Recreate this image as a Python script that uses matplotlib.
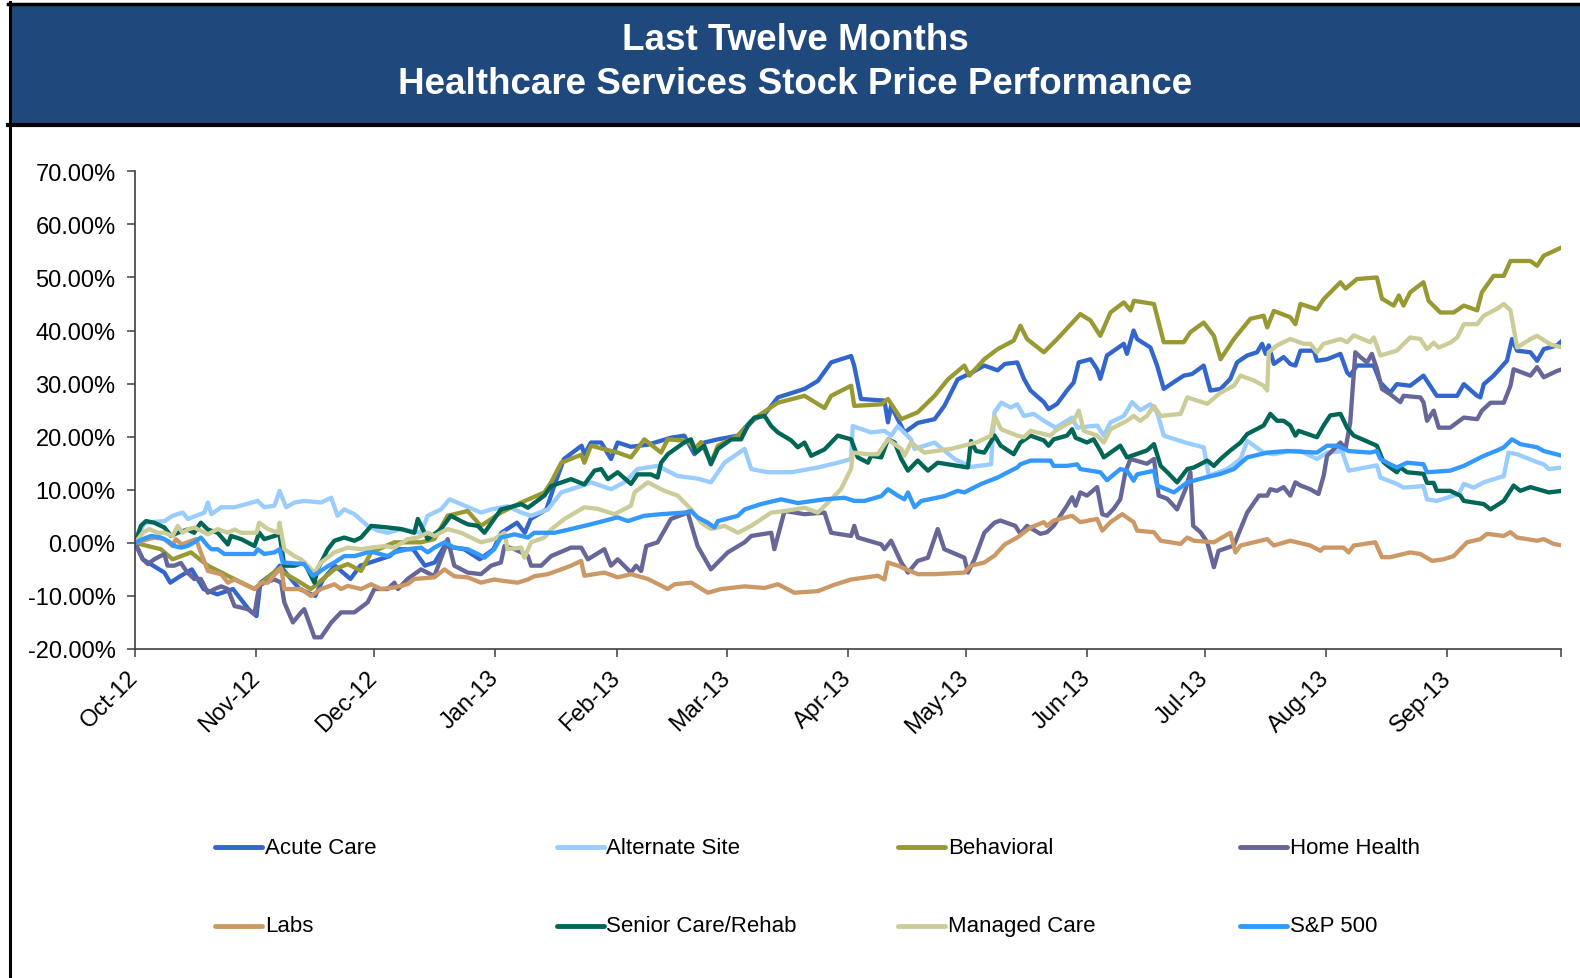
import numpy as np
import matplotlib
matplotlib.use('Agg')
import matplotlib.pyplot as plt
import matplotlib.dates as mdates
from matplotlib.lines import Line2D
from matplotlib.patches import Rectangle
from matplotlib.ticker import FuncFormatter
from datetime import datetime

plt.rcParams['font.family'] = ['Liberation Sans', 'DejaVu Sans']

start = datetime(2012, 10, 1)
end = datetime(2013, 9, 30)

names = ['Acute Care', 'Alternate Site', 'Behavioral', 'Home Health',
         'Labs', 'Senior Care/Rehab', 'Managed Care', 'S&P 500']
colors = ['#3366CC', '#99CCFF', '#999933', '#666699',
          '#CC9966', '#006655', '#CCCC99', '#3399FF']

# (days since 1-Oct-12, % price change)
acute_care = [
    (0, 0.0), (2, -3.1), (7.5, -5.6), (9, -7.5), (11.5, -6.3), (14.5, -5.0), (17.5, -8.7),
    (21, -9.7), (25, -8.7), (29, -12.5), (31, -13.8), (32, -7.5), (35.5, -5.6), (37, -4.3),
    (42, -8.7), (46, -10.0), (48, -6.9), (51, -4.3), (55, -6.8), (57.5, -4.3), (65, -2.5),
    (67, -1.2), (71, -1.2), (74, -4.3), (76.5, -3.7), (79, -0.6), (84, -1.2), (88, -3.1),
    (91.5, -1.2), (93.5, 1.9), (97.5, 3.8), (99.5, 1.9), (101, 4.5), (105, 6.3), (107, 10.7),
    (109.5, 15.8), (114, 18.3), (114.7, 16.7), (116.4, 18.9), (119, 18.9), (121.5, 15.8),
    (123.2, 18.9), (126.6, 18.1), (130.9, 18.5), (136.8, 19.8), (140.2, 20.2), (142.8, 16.7),
    (145.3, 18.9), (148.8, 19.5), (153.9, 20.2), (157.3, 23.0), (160.7, 24.2), (164.1, 27.4),
    (170.9, 29.0), (174.3, 30.5), (177.7, 34.0), (182.8, 35.2), (183.6, 33.3), (185.3, 27.1),
    (191.3, 26.8), (192.2, 22.7), (193, 25.8), (196.4, 20.8), (199.8, 22.6), (204.1, 23.3),
    (206.6, 25.8), (210, 30.8), (213.4, 32.0), (216.8, 33.4), (220.2, 32.5), (222, 33.7),
    (225.2, 34.0), (226.9, 30.9), (228.6, 28.7), (232, 26.5), (233.2, 25.2), (235.4, 26.2),
    (237.9, 28.7), (239.6, 30.2), (240.9, 34.0), (243.9, 34.6), (245.6, 32.7), (246.4, 30.9),
    (248.1, 35.3), (252.4, 37.5), (253.2, 35.6), (254.9, 40.0), (255.8, 38.4), (259.2, 36.8),
    (260.9, 33.4), (262.6, 29.0), (265.2, 30.3), (267.7, 31.5), (269.8, 31.8), (272.8, 33.4),
    (274.5, 28.7), (277.1, 29.0), (279.6, 30.9), (281.3, 34.0), (283.9, 35.3), (286.4, 35.9),
    (287.7, 37.5), (288.6, 35.6), (289.4, 37.2), (290.7, 33.7), (293.2, 35.0), (294.9, 33.7),
    (296.2, 33.4), (297.5, 36.2), (300.9, 36.2), (301.7, 34.3), (304.3, 34.6), (307.7, 35.6),
    (309.4, 32.1), (310.2, 31.5), (311.9, 33.4), (316.2, 33.4), (317.9, 30.2), (320.4, 28.3),
    (322.1, 29.9), (325.5, 29.6), (328.9, 31.5), (330.6, 29.6), (332.3, 27.7), (337.5, 27.7),
    (339.2, 29.9), (342.6, 27.7), (343.4, 27.4), (344.3, 29.9), (346.8, 31.5), (350.2, 34.3),
    (351.5, 38.4), (352.8, 36.2), (356.2, 35.9), (357.9, 34.3), (359.6, 36.5), (363, 37.2),
    (364.3, 38.1)]

alternate_site = [
    (0, 0.0), (2.4, 3.8), (7.5, 4.1), (9.6, 5.1), (12.2, 5.7), (13.5, 4.5), (17.7, 5.7),
    (18.6, 7.6), (19.5, 5.4), (22, 6.7), (25.4, 6.7), (31.3, 7.9), (33, 6.7), (35.6, 7.0),
    (36.9, 9.8), (38.6, 6.7), (40.7, 7.6), (43.2, 7.9), (47.5, 7.6), (50.1, 8.5), (51.7, 5.1),
    (53.4, 6.3), (56, 5.4), (59.4, 3.2), (62, 2.3), (64.5, 1.9), (67.9, 2.6), (73, 1.9),
    (74.7, 5.1), (78.1, 6.3), (80.3, 8.2), (83.2, 7.3), (88.3, 5.7), (90.9, 6.3), (95.1, 6.9),
    (98.6, 5.7), (101.1, 5.1), (105.4, 6.3), (108.8, 9.5), (113.9, 10.7), (116.4, 11.4),
    (121.5, 10.1), (124.9, 11.4), (128.3, 13.9), (133.4, 14.5), (138.5, 12.6), (143.6, 12.1),
    (147, 11.4), (150.5, 15.1), (155.6, 17.7), (157.3, 13.9), (161.5, 13.3), (167.5, 13.3),
    (174.3, 14.2), (179.4, 15.1), (182.8, 15.8), (183.2, 22.0), (187.9, 20.8), (191.3, 21.1),
    (193, 20.2), (194.7, 22.0), (198.1, 19.5), (199, 17.7), (204.1, 18.9), (209.2, 15.8),
    (213.4, 14.3), (218.5, 14.8), (219.4, 24.6), (221.1, 26.4), (223.5, 25.5), (225.2, 26.1),
    (226.9, 23.9), (229.4, 24.3), (232, 23.0), (235, 21.7), (239.2, 23.6), (240.5, 21.7),
    (245.6, 22.1), (247.3, 20.2), (249, 22.7), (252.4, 23.9), (254.5, 26.5), (256.6, 25.0),
    (259.2, 26.1), (260.9, 24.6), (262.6, 20.2), (268.1, 18.9), (272.8, 18.0), (274.1, 12.6),
    (278.8, 13.9), (282.2, 15.8), (283.9, 19.2), (288.1, 17.0), (290.7, 16.7), (294.9, 17.3),
    (297.5, 17.3), (301.7, 15.8), (304.3, 17.0), (308.1, 17.3), (309.8, 13.6), (317, 14.6),
    (317.9, 12.3), (322.1, 11.1), (323.8, 10.4), (328.9, 10.7), (329.8, 8.2), (332.3, 7.9),
    (337.9, 9.2), (339.2, 11.1), (341.7, 10.4), (344.3, 11.4), (349.4, 12.6), (350.6, 17.0),
    (352.8, 16.7), (357.9, 15.2), (359.6, 14.8), (360.9, 13.9), (364.3, 14.2)]

behavioral = [
    (0, 0.0), (6.6, -1.2), (9.6, -3.1), (14.3, -1.8), (18.6, -4.3), (24.5, -6.5), (30.5, -8.7),
    (36.4, -5.0), (40.7, -6.8), (44.9, -8.7), (50.9, -5.0), (54.3, -4.0), (57.7, -5.3),
    (60.3, -1.8), (66.2, 0.1), (73, 0.1), (76.4, 0.7), (79.8, 5.1), (84.9, 6.0), (88.3, 3.2),
    (93.4, 5.7), (98.6, 7.6), (104.5, 9.5), (106.2, 11.4), (108.8, 15.1), (113.9, 16.6),
    (114.7, 15.1), (116.4, 18.3), (123.2, 17.0), (126.6, 16.1), (130, 19.5), (134.3, 17.0),
    (136, 19.5), (141.1, 19.2), (142.8, 17.7), (144.5, 19.0), (147, 15.1), (148.8, 18.3),
    (153.9, 20.2), (159, 23.9), (164.1, 26.4), (170.9, 27.7), (176, 25.4), (177.7, 27.7),
    (182.8, 29.6), (183.6, 25.8), (190.5, 26.1), (192.2, 27.1), (195.6, 23.3), (199.8, 24.6),
    (204.1, 27.7), (207.5, 30.8), (211.7, 33.4), (213, 31.5), (216.8, 34.6), (220.2, 36.5),
    (224.3, 38.1), (226, 40.9), (227.7, 38.4), (232, 35.9), (235.4, 38.4), (241.3, 43.1),
    (243.9, 41.9), (246.4, 39.0), (249, 43.4), (252.4, 45.3), (254.1, 43.8), (255, 45.6),
    (260.1, 45.0), (262.6, 37.8), (267.7, 37.8), (269.4, 39.7), (272.8, 41.5), (275.4, 39.0),
    (277.1, 34.6), (280.5, 38.4), (284.7, 42.2), (288.1, 42.8), (289, 40.6), (290.7, 43.7),
    (294.9, 42.5), (296.2, 41.2), (297.5, 45.0), (301.7, 44.0), (303.4, 45.9), (307.7, 49.1),
    (309, 47.9), (311.9, 49.7), (317, 50.0), (318.3, 46.0), (321.3, 44.7), (322.6, 46.6),
    (323.8, 44.7), (325.5, 47.2), (328.9, 49.1), (330.2, 45.6), (333.2, 43.4), (336.6, 43.4),
    (339.2, 44.7), (342.6, 43.8), (343.8, 47.2), (346.8, 50.3), (349.4, 50.3), (351.1, 53.1),
    (356.2, 53.1), (357.9, 52.2), (359.6, 54.1), (364.3, 55.7)]

home_health = [
    (0, 0.0), (2, -3.1), (3.3, -4.0), (4.9, -3.1), (7.5, -2.1), (8.3, -4.3), (10, -4.3),
    (11.7, -3.8), (13.4, -5.6), (15.1, -6.8), (16.8, -6.8), (18.6, -9.4), (20.3, -8.7),
    (22, -8.2), (23.7, -8.7), (25.4, -11.9), (28.8, -12.5), (30.5, -13.4), (31.7, -8.1),
    (33, -7.5), (35.6, -6.9), (37.3, -7.5), (38.1, -11.2), (40.3, -15.0), (42.4, -13.1),
    (43.2, -12.5), (45.8, -17.8), (47.5, -17.8), (50.1, -15.0), (52.6, -13.1), (56, -13.1),
    (59.4, -11.2), (61.1, -8.7), (64.5, -8.7), (66.2, -7.5), (67.1, -8.7), (69.6, -6.8),
    (73, -5.0), (76.4, -6.3), (79, -1.2), (79.8, 0.7), (81.5, -4.3), (84.9, -5.6), (88.3, -5.9),
    (90.9, -4.3), (93.4, -3.7), (94.3, -0.6), (96.9, -1.2), (98.6, -1.8), (100.3, -2.5),
    (101.1, -4.3), (103.7, -4.3), (106.2, -2.5), (111.3, -0.9), (113.9, -0.9), (115.6, -3.1),
    (119.8, -1.2), (121.5, -4.3), (123.2, -3.1), (126.6, -5.6), (127.9, -4.3), (129.2, -5.3),
    (130.5, -0.6), (133.4, 0.1), (135.1, 2.3), (136.8, 4.5), (141.1, 5.7), (143.6, -0.6),
    (147, -5.0), (151.3, -1.8), (155.6, 0.1), (157.3, 1.3), (162.4, 1.9), (163.2, -1.2),
    (165.8, 6.0), (170.9, 5.4), (176, 5.7), (177.7, 1.9), (182.8, 1.3), (183.6, 3.2),
    (184.5, 1.0), (190.5, -0.3), (191.3, -1.2), (193, 0.4), (195.6, -3.7), (197.3, -5.6),
    (199.8, -3.4), (202.4, -2.8), (204.9, 2.6), (206.6, -1.2), (211.7, -2.8), (212.6, -5.6),
    (214.3, -3.1), (216.8, 1.9), (219.4, 3.8), (220.9, 4.2), (224.7, 3.2), (226, 1.7),
    (227.7, 3.2), (231.1, 1.7), (232.8, 2.0), (234.5, 3.2), (236.2, 5.1), (237.9, 7.0),
    (239.2, 8.6), (240.1, 7.0), (241.3, 9.5), (243, 8.9), (245.6, 10.5), (246.9, 5.4),
    (248.1, 5.1), (249.8, 6.4), (251.5, 8.2), (252.8, 13.3), (254.1, 15.8), (258.3, 14.9),
    (260.1, 15.8), (261.3, 8.9), (263.5, 8.3), (266, 6.3), (268.1, 10.0), (269.4, 13.3),
    (270.1, 3.2), (272, 2.0), (273.7, 0.1), (275.4, -4.6), (276.6, -1.5), (280.5, -0.5),
    (281.3, 1.0), (283.9, 5.7), (286.9, 8.9), (289, 8.9), (289.8, 10.1), (291.5, 9.8),
    (293.2, 10.5), (294.9, 8.9), (296.2, 11.4), (297.5, 10.8), (300, 10.1), (302.1, 9.2),
    (303.4, 12.6), (304.3, 16.4), (307.7, 18.9), (309, 17.7), (310.2, 22.7), (311.5, 35.9),
    (312.8, 35.0), (314.5, 34.0), (315.7, 35.6), (317, 32.8), (318.3, 29.0), (320.4, 28.0),
    (323, 26.5), (323.8, 27.7), (328.1, 27.4), (328.9, 26.5), (329.8, 23.0), (331.5, 24.9),
    (332.8, 21.7), (335.7, 21.7), (339.2, 23.6), (342.6, 23.3), (343.8, 24.9), (346, 26.4),
    (349.4, 26.4), (351.1, 29.6), (351.9, 32.7), (356.2, 31.5), (357.9, 33.1), (359.6, 31.2),
    (363, 32.4), (364.3, 32.7)]

labs = [
    (0, 0.0), (4.9, 1.0), (7.5, 0.7), (9.6, -0.6), (10.4, 0.7), (11.9, -0.3), (15.6, 0.7),
    (16.8, -1.8), (18.6, -5.3), (22, -5.9), (23.7, -7.5), (25.4, -6.9), (27.9, -7.8),
    (30.5, -8.7), (32.2, -7.5), (33.9, -7.5), (37.3, -4.6), (38.1, -8.7), (42.4, -8.7),
    (44.9, -10.0), (47.5, -8.7), (50.9, -7.8), (52.6, -8.7), (54.3, -8.1), (57.7, -8.7),
    (60.3, -7.8), (62.8, -8.7), (66.2, -8.4), (69.6, -7.8), (71.3, -6.8), (76.4, -6.5),
    (79, -5.0), (81.5, -6.3), (84.9, -6.5), (88.3, -7.5), (91.7, -6.9), (94.3, -7.2),
    (97.7, -7.5), (100.3, -6.9), (101.9, -6.3), (105.4, -5.9), (108.8, -5.0), (111.3, -4.3),
    (113.9, -3.4), (114.7, -6.2), (119.8, -5.6), (123.2, -6.5), (126.6, -5.9), (130.9, -6.8),
    (136, -8.7), (137.7, -7.8), (142, -7.5), (146.2, -9.4), (149.6, -8.7), (155.6, -8.2),
    (160.7, -8.5), (164.1, -7.8), (168.3, -9.4), (174.3, -9.1), (178.5, -7.9), (182.8, -6.9),
    (189.6, -6.2), (191.3, -6.9), (192.2, -3.7), (194.7, -4.3), (199.8, -5.9), (204.1, -5.9),
    (211.7, -5.6), (213.4, -4.3), (216.8, -3.7), (219.4, -2.4), (222, -0.3), (225.2, 1.0),
    (228.6, 2.9), (232, 3.9), (232.8, 3.2), (234.5, 4.2), (239.2, 5.1), (241.3, 3.9),
    (245.6, 4.5), (246.9, 2.3), (249, 3.9), (252, 5.4), (254.9, 3.9), (255.8, 2.3),
    (260.1, 2.0), (261.8, 0.4), (266.9, -0.2), (268.6, 1.0), (270.3, 0.4), (275.4, 0.1),
    (279.6, 1.9), (280.9, -1.8), (282.2, -0.5), (289, 0.7), (290.7, -0.5), (294.9, 0.4),
    (300, -0.5), (302.6, -1.5), (303.4, -0.9), (308.5, -0.9), (309.8, -1.8), (311.1, -0.5),
    (316.6, 0.1), (318.3, -2.7), (320.4, -2.7), (325.5, -1.8), (328.1, -2.1), (331.1, -3.4),
    (334, -3.1), (336.6, -2.5), (338.3, -1.2), (340, 0.1), (343.4, 0.7), (345.1, 1.7),
    (349.4, 1.3), (351.1, 2.0), (352.8, 1.0), (357.9, 0.4), (359.6, 0.7), (362.1, -0.2),
    (364.3, -0.5)]

senior_care = [
    (0, 0.0), (1.5, 3.2), (2.8, 4.1), (4.9, 3.8), (7.5, 2.9), (9.2, 1.3), (10.9, 1.9),
    (13.4, 2.5), (15.1, 1.9), (16.8, 3.8), (18.6, 2.5), (21.1, 1.9), (23.7, -0.3), (24.5, 1.3),
    (27.1, 0.7), (30.5, -0.6), (31.7, 1.9), (33, 0.7), (35.6, 1.3), (36.9, 1.6), (38.1, -4.3),
    (40.7, -4.3), (43.2, -3.7), (45.8, -7.5), (46.6, -5.0), (49.2, -1.2), (50.9, 0.4),
    (53.4, 1.0), (56, 0.4), (57.7, 1.0), (60.3, 3.2), (64.5, 2.9), (67.9, 2.6), (71.3, 1.9),
    (72.2, 4.5), (74.7, 0.7), (78.1, 2.6), (80.6, 5.1), (83.2, 4.1), (84.9, 3.5), (87.5, 3.2),
    (89.2, 1.9), (93.4, 6.3), (95.1, 6.6), (98.6, 7.3), (100.3, 6.6), (101.9, 7.5),
    (104.5, 8.9), (106.2, 10.7), (111.3, 12.0), (114.7, 11.0), (117.3, 13.6), (119, 13.9),
    (120.7, 12.0), (123.2, 13.3), (126.6, 11.1), (128.3, 12.9), (131.7, 12.9), (133.4, 12.3),
    (134.3, 15.1), (136, 16.7), (140.2, 18.9), (141.9, 19.5), (143.2, 17.0), (145.3, 18.3),
    (147, 14.8), (148.8, 17.7), (152.2, 19.5), (154.7, 19.5), (156.4, 22.0), (158.1, 23.6),
    (160.7, 23.9), (162.4, 22.0), (164.1, 20.8), (167.5, 19.3), (169.2, 18.0), (170.9, 18.9),
    (172.6, 16.4), (176, 17.6), (179.4, 20.2), (182.8, 19.5), (184.5, 16.1), (187.1, 15.1),
    (187.9, 16.4), (190.5, 16.1), (192.2, 19.5), (193.9, 18.9), (195.6, 15.8), (197.3, 13.6),
    (199.8, 15.5), (202.4, 13.6), (204.9, 15.1), (212.6, 14.2), (213.4, 19.2), (214.7, 17.3),
    (216.8, 17.0), (219.4, 20.2), (221, 18.3), (224.3, 16.7), (226, 18.9), (228.6, 20.2),
    (232, 19.3), (233.2, 18.3), (234.5, 19.5), (237.9, 20.2), (239.2, 21.4), (240.1, 19.8),
    (243, 18.9), (244.7, 19.5), (246.4, 17.4), (247.3, 16.1), (251.5, 18.3), (253.2, 16.1),
    (258.3, 17.4), (260.1, 18.6), (261.8, 14.5), (263.5, 13.3), (266, 11.4), (268.6, 13.9),
    (270.3, 14.2), (273.7, 15.5), (275.4, 14.5), (277.1, 15.8), (279.6, 17.4), (282.2, 18.9),
    (283.9, 20.5), (288.1, 22.1), (289.8, 24.3), (291.5, 23.0), (293.2, 23.0), (294.9, 22.1),
    (296.2, 20.2), (297, 21.1), (301.7, 19.9), (303.4, 22.1), (305.1, 24.0), (307.7, 24.3),
    (309.4, 21.7), (311.1, 20.2), (317, 18.3), (318.7, 15.2), (320.4, 14.2), (322.1, 13.3),
    (323, 14.2), (324.7, 13.3), (328.9, 13.0), (329.8, 11.3), (331.5, 11.3), (332.3, 9.8),
    (335.7, 9.8), (338.3, 8.9), (339.2, 7.9), (344.3, 7.3), (346, 6.3), (349.4, 7.9),
    (351.9, 10.8), (353.6, 9.8), (356.2, 10.5), (360.9, 9.5), (364.3, 9.8)]

managed_care = [
    (0, 0.0), (2, 1.9), (3.6, 2.6), (5.8, 1.9), (7.5, 1.9), (9.6, 1.3), (10.9, 3.2),
    (12.2, 1.9), (13.4, 2.5), (15.1, 2.9), (18.6, 1.6), (21.1, 2.6), (23.7, 1.9), (25.4, 2.5),
    (27.1, 1.9), (31, 1.9), (31.7, 3.8), (33.9, 2.6), (36.5, 1.9), (36.9, 3.8), (38.1, -1.2),
    (40.7, -2.5), (42.4, -3.1), (44.1, -4.3), (45.8, -5.6), (47.5, -3.7), (50.9, -1.8),
    (54.3, -0.9), (57.7, -1.2), (60.3, -0.9), (63.7, -0.6), (66.2, -0.9), (69.6, 0.7),
    (72.2, 1.0), (74.7, 1.9), (76.4, 1.3), (79.8, 2.6), (83.2, 1.9), (84.9, 1.3), (88.3, 0.1),
    (91.7, 0.7), (94.3, 1.9), (95.1, -1.2), (98.6, -0.9), (99.4, -2.8), (101.1, 0.1),
    (104.5, 1.0), (106.2, 2.5), (109.6, 4.5), (114.7, 6.7), (118.1, 6.4), (122.4, 5.4),
    (126.6, 7.0), (127.5, 9.5), (130.9, 11.4), (135.1, 9.8), (138.5, 8.9), (142, 6.3),
    (144.5, 3.8), (147, 2.6), (150.5, 3.2), (153.9, 1.9), (157.3, 3.2), (162.4, 5.7),
    (165.8, 6.0), (170.9, 6.6), (174.3, 5.7), (176.8, 7.5), (180.2, 10.1), (182.8, 14.0),
    (183.2, 17.0), (187.1, 16.7), (189.6, 16.7), (192.2, 19.5), (195.6, 17.7), (196.4, 16.4),
    (198.1, 18.9), (201.5, 17.0), (208.3, 17.7), (215.1, 19.0), (218.5, 20.2), (219.4, 23.9),
    (221.1, 21.4), (225.2, 20.2), (226.9, 19.9), (228.6, 21.1), (233.7, 20.2), (234.9, 21.1),
    (237.9, 22.4), (239.6, 23.0), (240.9, 24.9), (242.2, 21.1), (245.6, 20.2), (247.3, 18.9),
    (249, 21.4), (253.2, 23.0), (254.9, 23.9), (256.6, 23.0), (258.3, 23.9), (260.1, 25.8),
    (261.8, 23.9), (266.9, 24.3), (268.6, 27.4), (273.7, 26.2), (277.1, 28.3), (280.5, 29.6),
    (282.2, 31.5), (285.6, 30.6), (288.1, 29.6), (289, 28.7), (289.4, 35.9), (291.5, 37.2),
    (294.9, 38.4), (298.3, 37.5), (300, 37.5), (301.7, 35.9), (303.4, 37.5), (307.7, 38.4),
    (309.4, 37.8), (311.1, 39.1), (315.3, 37.8), (316.2, 38.7), (317.9, 35.3), (322.1, 36.2),
    (325.5, 38.7), (328.1, 38.4), (329.8, 36.5), (331.5, 37.7), (332.8, 36.8), (335.7, 37.7),
    (337.5, 38.7), (339.2, 41.2), (342.6, 41.2), (344.3, 42.8), (347.7, 44.1), (349.4, 45.0),
    (351.1, 43.8), (352.8, 36.8), (356.2, 38.4), (357.9, 39.0), (361.3, 37.4), (364.3, 36.8)]

sp500 = [
    (0, 0.0), (2, 0.7), (4.1, 1.3), (6.6, 1.0), (8.3, 0.4), (10, -0.6), (11.7, -0.9),
    (13.4, -0.6), (15.1, 0.1), (16.8, 1.0), (18.6, -0.6), (19.5, -1.2), (21.1, -1.2),
    (22.8, -2.1), (30.5, -2.1), (31.3, -1.2), (33, -2.1), (35.6, -1.8), (36.9, -1.2),
    (37.7, -3.7), (43.2, -4.0), (45.4, -6.2), (46.6, -5.7), (49.2, -4.4), (50.9, -3.7),
    (53.4, -2.5), (56, -2.5), (59.4, -1.8), (61.1, -1.8), (64.5, -2.5), (66.2, -1.8),
    (69.6, -1.2), (73, -0.9), (74.7, -1.8), (76.4, -0.9), (79, 0.1), (81.5, -0.9), (84.9, -1.2),
    (87.5, -2.1), (89.2, -2.8), (91.7, -1.2), (93.4, 1.0), (96.9, 1.6), (98.6, 1.3),
    (100.3, 1.0), (101.9, 1.9), (104.5, 1.9), (107.1, 1.9), (111.3, 2.6), (116.4, 3.5),
    (123.2, 4.8), (125.8, 4.1), (130, 5.1), (134.3, 5.4), (140.2, 5.7), (141.9, 6.0),
    (143.6, 4.8), (146.2, 3.8), (147.9, 2.9), (148.8, 4.1), (153.9, 5.1), (155.6, 6.3),
    (159.8, 7.3), (164.9, 8.2), (169.2, 7.5), (176, 8.2), (181.1, 8.5), (183.6, 7.9),
    (186.2, 7.9), (190.5, 8.8), (192.2, 10.1), (194.7, 8.9), (196.4, 8.2), (197.3, 9.5),
    (199, 6.7), (200.7, 7.9), (206.6, 8.8), (210, 9.8), (211.7, 9.5), (216, 11.1),
    (220.2, 12.3), (222, 13.0), (225.2, 14.2), (226, 14.8), (228.6, 15.5), (233.7, 15.5),
    (234.5, 14.5), (237.9, 14.5), (240.5, 14.8), (241.3, 13.9), (246.4, 13.3), (248.1, 11.8),
    (251.5, 13.9), (253.2, 13.6), (254.9, 11.7), (255.8, 12.9), (260.1, 13.6), (260.9, 10.8),
    (265.2, 9.5), (268.6, 11.4), (273.7, 12.4), (277.1, 13.0), (280.5, 13.9), (283.9, 16.1),
    (289, 17.0), (294.1, 17.3), (301.7, 17.0), (304.3, 18.3), (306.8, 18.3), (309.8, 17.3),
    (315.3, 17.0), (317, 17.3), (317.9, 15.8), (320.4, 14.8), (322.1, 14.2), (324.7, 15.1),
    (328.9, 14.8), (329.8, 13.3), (335.7, 13.6), (339.2, 14.5), (344.3, 16.4), (347.7, 17.4),
    (349.4, 18.0), (351.5, 19.5), (353.6, 18.6), (357.9, 18.0), (359.6, 17.3), (364.3, 16.4)]

series = [acute_care, alternate_site, behavioral, home_health,
          labs, senior_care, managed_care, sp500]

W, H = 1580, 979
fig = plt.figure(figsize=(W / 100, H / 100), dpi=100)


def fx(px):
    return px / W


def fy(py):
    return 1 - py / H


# header banner and frame lines
fig.add_artist(Rectangle((fx(10), fy(125)), 1 - fx(10), fy(6) - fy(125),
                         transform=fig.transFigure, facecolor='#1F487C', edgecolor='none'))
fig.add_artist(Line2D([fx(8), 1], [fy(4.5), fy(4.5)], color='black', lw=2.5))
fig.add_artist(Line2D([fx(8), 1], [fy(126), fy(126)], color='black', lw=3))
fig.add_artist(Line2D([fx(9.5), fx(9.5)], [fy(3), 0], color='black', lw=2.2))
fig.text(fx(795), fy(41), 'Last Twelve Months', ha='center', va='center',
         color='white', fontsize=26.5, fontweight='bold')
fig.text(fx(795), fy(85), 'Healthcare Services Stock Price Performance', ha='center',
         va='center', color='white', fontsize=26.5, fontweight='bold')

ax = fig.add_axes([fx(135), fy(650), fx(1561) - fx(135), fy(172.3) - fy(650)])
base = mdates.date2num(start)
for name, color, data in zip(names, colors, series):
    days, vals = zip(*data)
    ax.plot(base + np.array(days), vals, color=color, lw=3.1,
            solid_joinstyle='round', solid_capstyle='round', label=name)

ax.set_xlim(base, mdates.date2num(end))
ax.set_ylim(-20, 70)
ax.set_yticks(np.arange(-20, 71, 10))
ax.yaxis.set_major_formatter(FuncFormatter(lambda v, p: f'{v:.2f}%'))
ax.xaxis.set_major_locator(mdates.MonthLocator())
ax.xaxis.set_major_formatter(mdates.DateFormatter('%b-%y'))
ax.set_xticks([mdates.date2num(end)], minor=True)
for s in ['top', 'right']:
    ax.spines[s].set_visible(False)
for s in ['left', 'bottom']:
    ax.spines[s].set_color('#404040')
    ax.spines[s].set_linewidth(1.2)
ax.tick_params(axis='both', which='both', direction='out', length=6, width=1.1,
               color='#404040', labelsize=17)
ax.tick_params(axis='y', pad=8)
ax.tick_params(axis='x', pad=12)
plt.setp(ax.get_xticklabels(), rotation=45, ha='right', va='center', rotation_mode='anchor')

# legend: 2 rows x 4 columns
for i, (name, color) in enumerate(zip(names, colors)):
    col, row = i % 4, i // 4
    x0 = 215 + 341.5 * col
    y0 = 848 + 78.5 * row
    fig.add_artist(Line2D([fx(x0), fx(x0 + 47)], [fy(y0), fy(y0)], color=color, lw=3.5,
                          solid_capstyle='round'))
    fig.text(fx(x0 + 50), fy(y0), name, fontsize=16, ha='left', va='center')

fig.savefig('out.png', dpi=100)
